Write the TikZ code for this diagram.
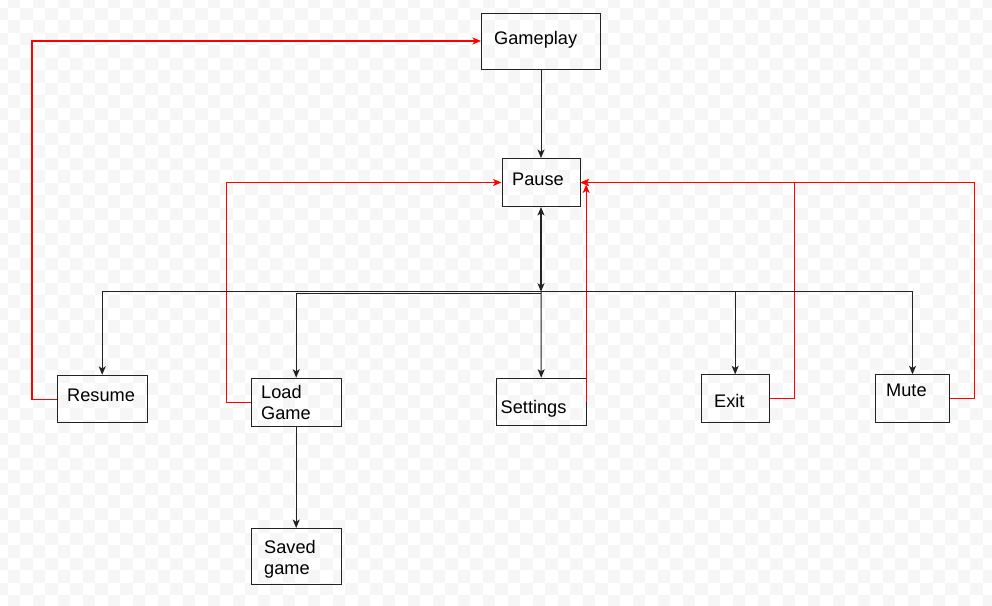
\documentclass[tikz,border=0pt]{standalone}
\usepackage{fontspec}
\setmainfont{Liberation Sans}
\usetikzlibrary{arrows.meta,calc}
\definecolor{chk}{HTML}{F6F6F6}
\definecolor{edge}{HTML}{222222}
\definecolor{redline}{rgb}{1,0,0}
\tikzset{
  box/.style={draw=edge, line width=1pt, anchor=north west, inner sep=0pt, fill=none},
  lbl/.style={anchor=base west, inner sep=0pt, font=\fontsize{18.2}{21}\selectfont},
  tip/.tip={Stealth[length=8.5pt,width=7pt,inset=2.2pt]},
  blk/.style={draw=edge, line width=1pt, -tip},
  rln/.style={draw=redline, line width=1pt, -tip},
}
\begin{document}
\begin{tikzpicture}[x=1pt,y=-1pt]
\useasboundingbox (0,0) rectangle (992,605);
% checkerboard background
\begin{scope}
\clip (0,0) rectangle (992,605);
\foreach \j in {-1,...,47}{
  \pgfmathtruncatemacro\s{isodd(\j) ? 0 : -1}
  \pgfmathtruncatemacro\sb{\s+2}
  \foreach \i in {\s,\sb,...,79}{
    \fill[chk] ({7.5+12.5*\i},{7.5+12.5*\j}) rectangle ++(12.5,12.5);
  }
}
\end{scope}
% boxes
\node[box, minimum width=119pt, minimum height=56pt] (gp) at (481,12.5) {};
\node[box, minimum width=78pt, minimum height=48pt] (pause) at (501.5,158) {};
\node[box, minimum width=90pt, minimum height=47.5pt] (resume) at (56.7,374.8) {};
\node[box, minimum width=90pt, minimum height=48pt] (load) at (250.7,377.7) {};
\node[box, minimum width=90pt, minimum height=47.5pt] (settings) at (495.7,377.7) {};
\node[box, minimum width=68pt, minimum height=48pt] (exit) at (700.7,374.3) {};
\node[box, minimum width=73.4pt, minimum height=48pt] (mute) at (875.3,374.3) {};
\node[box, minimum width=90pt, minimum height=56pt] (saved) at (250.7,528) {};
% red connectors
\coordinate (rcorner) at ($(resume.west)+(-24.7,0)$);
\draw[rln] (load.west) -- ++(-24.7,0) |- (pause.west);
\draw[rln] (exit.east) -- ++(25,0) |- (pause.east);
\draw[rln] (mute.east) -- ++(24.7,0) |- (pause.east);
\draw[rln] ($(settings.east)+(-0.5,0)$) -- ($(settings.east |- pause.east)+(-0.5,2)$);
\draw[draw=red, line width=1.1pt, -tip] (resume.west) -- (rcorner) |- (gp.west);
% black connectors
\coordinate (bus) at ($(pause.south)+(0,84.7)$);
\coordinate (bus2) at ($(pause.south)+(0,86)$);
\draw[blk] (gp.south) -- (pause.north);
\draw[blk] (bus) -| (resume.north);
\draw[blk] (bus2) -| (load.north);
\draw[blk] (bus) -| (exit.north);
\draw[blk] (bus) -| (mute.north);
\draw[blk, tip-tip, line width=1.2pt] (pause.south) -- (bus);
\draw[blk] (bus) -- (settings.north);
\draw[blk] (load.south) -- (saved.north);
% labels
\node[lbl] (gpT) at (494,44.5) {Gameplay};
\node[lbl] (pauseT) at (512,185.5) {Pause};
\node[lbl] (resumeT) at (67,401.7) {Resume};
\node[lbl] (loadT1) at (261,398) {Load};
\node[lbl] (loadT2) at (261,419) {Game};
\node[lbl] (settingsT) at (500.5,413.3) {Settings};
\node[lbl] (exitT) at (714,407) {Exit};
\node[lbl] (muteT) at (886,396.7) {Mute};
\node[lbl] (savedT1) at (264,553) {Saved};
\node[lbl] (savedT2) at (264,574) {game};
\end{tikzpicture}
\end{document}
